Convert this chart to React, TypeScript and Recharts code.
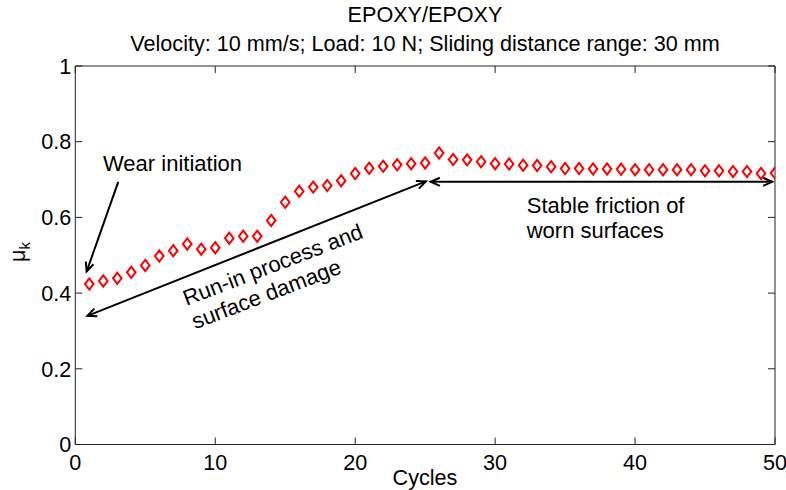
import React from 'react';
import { ScatterChart, Scatter, XAxis, YAxis, ReferenceLine, ReferenceDot } from 'recharts';

const cycles = [
  1, 2, 3, 4, 5, 6, 7, 8, 9, 10, 11, 12, 13, 14, 15, 16, 17, 18, 19, 20, 21, 22, 23, 24, 25,
  26, 27, 28, 29, 30, 31, 32, 33, 34, 35, 36, 37, 38, 39, 40, 41, 42, 43, 44, 45, 46, 47, 48, 49, 50
];
const muK = [
  0.424, 0.432, 0.439, 0.455, 0.473, 0.498, 0.512, 0.53, 0.516, 0.52,
  0.545, 0.55, 0.55, 0.592, 0.64, 0.669, 0.68, 0.684, 0.697, 0.716,
  0.73, 0.735, 0.739, 0.742, 0.744, 0.77, 0.753, 0.752, 0.747, 0.742,
  0.741, 0.738, 0.737, 0.734, 0.729, 0.729, 0.728, 0.728, 0.727, 0.726,
  0.726, 0.726, 0.726, 0.726, 0.723, 0.723, 0.721, 0.721, 0.716, 0.717
];
const xTicks = [0, 10, 20, 30, 40, 50];
const yTicks = [0, 0.2, 0.4, 0.6, 0.8, 1];

// annotation arrows (data units)
const arrows = [
  { id: 'wear', from: { x: 3.07, y: 0.694 }, to: { x: 0.81, y: 0.457 }, both: false },
  { id: 'runin', from: { x: 0.86, y: 0.34 }, to: { x: 25.05, y: 0.695 }, both: true },
  { id: 'stable', from: { x: 25.4, y: 0.694 }, to: { x: 49.8, y: 0.694 }, both: true }
];

const points = cycles.map((c, i) => ({ cycle: c, mu: muK[i] }));

const FONT = '"Liberation Sans", Arial, Helvetica, sans-serif';
const INK = '#222';
const TICK = 7;
const FS = 21.6;

function head(tx: number, ty: number, fx: number, fy: number) {
  const a = Math.atan2(ty - fy, tx - fx);
  const L = 10, w = 0.42;
  const p1 = `${tx - L * Math.cos(a - w)},${ty - L * Math.sin(a - w)}`;
  const p2 = `${tx - L * Math.cos(a + w)},${ty - L * Math.sin(a + w)}`;
  return `M${p1} L${tx},${ty} L${p2}`;
}

const arrowShape = (both: boolean) => (p: any) => {
  const { x1, y1, x2, y2 } = p;
  return <g>
      <line x1={x1} y1={y1} x2={x2} y2={y2} stroke="#000" strokeWidth={2} />
      <path d={head(x2, y2, x1, y1)} fill="none" stroke="#000" strokeWidth={2} />
      {both && <path d={head(x1, y1, x2, y2)} fill="none" stroke="#000" strokeWidth={2} />}
    </g>;
};

const Diamond = (p: any) => {
  const { cx, cy } = p;
  return <path d={`M${cx},${cy - 5.6} L${cx + 4.3},${cy} L${cx},${cy + 5.6} L${cx - 4.3},${cy} Z`} fill="none" stroke="#ff0000" strokeWidth={2} />;
};

const BottomTick = ({ x, y, payload }: any) => <g>
    <line x1={x} x2={x} y1={y} y2={y - TICK} stroke={INK} />
    <text x={x} y={y + 25} textAnchor="middle" fontSize={FS} fontFamily={FONT} fill="#000">{payload.value}</text>
  </g>;
const TopTick = ({ x, y }: any) => <line x1={x} x2={x} y1={y} y2={y + TICK} stroke={INK} />;
const LeftTick = ({ x, y, payload }: any) => <g>
    <line x1={x} x2={x + TICK} y1={y} y2={y} stroke={INK} />
    <text x={x - 4} y={y} dy="0.36em" textAnchor="end" fontSize={FS} fontFamily={FONT} fill="#000">{payload.value}</text>
  </g>;
const RightTick = ({ x, y }: any) => <line x1={x} x2={x - TICK} y1={y} y2={y} stroke={INK} />;

const XLabel = () => <text x={425} y={485} textAnchor="middle" fontFamily={FONT} fontSize={FS} fill="#000">Cycles</text>;
const YLabel = () => <text x={25} y={252} transform="rotate(-90 25 252)" textAnchor="middle" fontFamily={FONT} fontSize={FS} fill="#000">
    μ<tspan dy={5} fontSize={15}>k</tspan>
  </text>;

const textAt = (lines: string[], rotate = 0, center = true) => (p: any) => {
  const { cx, cy } = p;
  return <text x={cx} y={cy} transform={rotate ? `rotate(${rotate} ${cx} ${cy})` : undefined} fontFamily={FONT} fontSize={22} fill="#000">
      {lines.map((l, i) => <tspan key={i} x={cx} dy={i === 0 ? (center ? '0.36em' : 0) : 25}>{l}</tspan>)}
    </text>;
};

export default function App() {
  return <div style={{ position: 'absolute', left: 0, top: 0, width: 786, height: 490, background: '#fff', fontFamily: FONT }}>
      <svg width={786} height={60} style={{ position: 'absolute', left: 0, top: 0 }}>
        <g fontFamily={FONT} fontSize={FS} fill="#000" textAnchor="middle">
          <text x={425} y={22}>EPOXY/EPOXY</text>
          <text x={425} y={51}>Velocity: 10 mm/s; Load: 10 N; Sliding distance range: 30 mm</text>
        </g>
      </svg>
      <div style={{ position: 'absolute', left: 0, top: 0 }}>
        <ScatterChart width={786} height={490} margin={{ top: 65, right: 10, bottom: 0, left: 0 }}>
          <XAxis xAxisId={0} dataKey="cycle" type="number" domain={[0, 50]} ticks={xTicks} allowDataOverflow height={45.5} tickSize={0} tickMargin={0} tickLine={false} axisLine={{ stroke: INK }} tick={BottomTick} label={<XLabel />} />
          <XAxis xAxisId="top" orientation="top" dataKey="cycle" type="number" domain={[0, 50]} ticks={xTicks} allowDataOverflow height={1} tickSize={0} tickMargin={0} tickLine={false} axisLine={{ stroke: INK }} tick={TopTick} />
          <YAxis yAxisId={0} dataKey="mu" type="number" domain={[0, 1]} ticks={yTicks} allowDataOverflow width={75.3} tickSize={0} tickMargin={0} tickLine={false} axisLine={{ stroke: INK }} tick={LeftTick} label={<YLabel />} />
          <YAxis yAxisId="right" orientation="right" dataKey="mu" type="number" domain={[0, 1]} ticks={yTicks} allowDataOverflow width={1} tickSize={0} tickMargin={0} tickLine={false} axisLine={{ stroke: INK }} tick={RightTick} />
          <Scatter data={points} xAxisId={0} yAxisId={0} shape={Diamond} isAnimationActive={false} />
          {arrows.map(a => <ReferenceLine key={a.id} xAxisId={0} yAxisId={0} segment={[a.from, a.to]} ifOverflow="visible" shape={arrowShape(a.both)} />)}
          <ReferenceDot xAxisId={0} yAxisId={0} x={1.98} y={0.744} ifOverflow="visible" shape={textAt(['Wear initiation'])} />
          <ReferenceDot xAxisId={0} yAxisId={0} x={32.26} y={0.633} ifOverflow="visible" shape={textAt(['Stable friction of', 'worn surfaces'])} />
          <ReferenceDot xAxisId={0} yAxisId={0} x={7.94} y={0.366} ifOverflow="visible" shape={textAt(['Run-in process and', 'surface damage'], -21, false)} />
        </ScatterChart>
      </div>
    </div>;
}
